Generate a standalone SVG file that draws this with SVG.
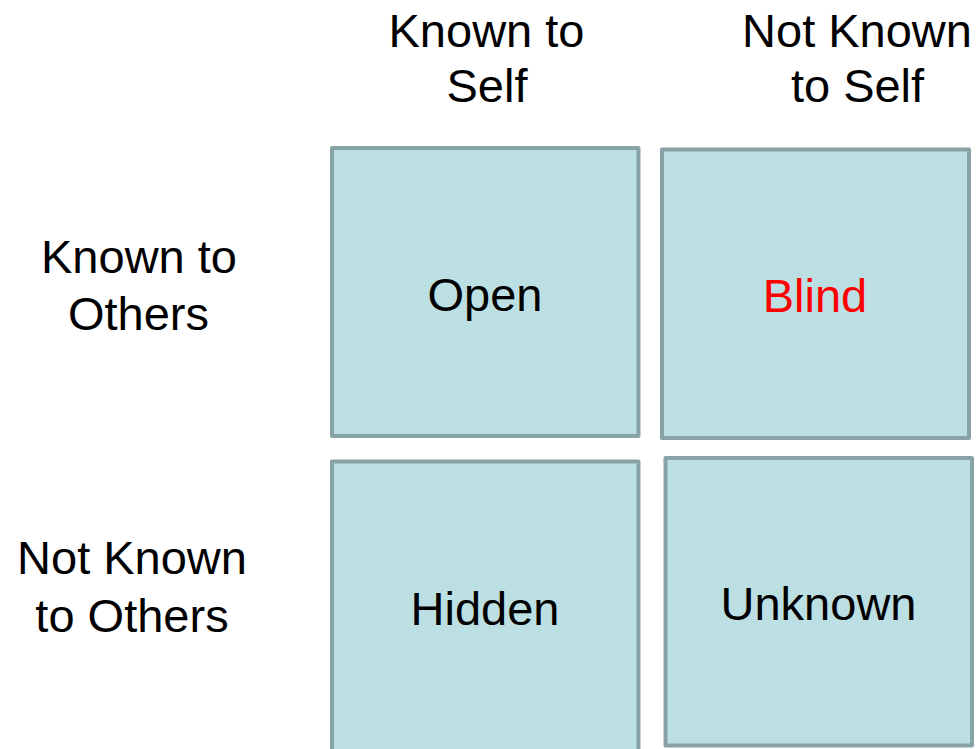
<svg xmlns="http://www.w3.org/2000/svg" width="976" height="749" viewBox="0 0 976 749">
<style>
.box{fill:#bbdfe2;stroke:#88a3a6;stroke-width:4;stroke-linejoin:round}
.t{font-family:"Liberation Sans",Arial,sans-serif;font-size:47px;fill:#000;text-anchor:middle}
.red{fill:#ff0000}
</style>
<rect width="976" height="749" fill="#ffffff"/>
<g id="header-known-self"><text class="t" x="486.5" y="47">Known to</text><text class="t" x="487" y="102">Self</text></g>
<g id="header-not-known-self"><text class="t" x="857" y="47">Not Known</text><text class="t" x="857.5" y="102">to Self</text></g>
<g id="header-known-others"><text class="t" x="139" y="273">Known to</text><text class="t" x="138.5" y="330">Others</text></g>
<g id="header-not-known-others"><text class="t" x="132" y="574">Not Known</text><text class="t" x="132" y="632">to Others</text></g>
<g id="open"><rect class="box" x="332" y="148" width="306.5" height="288"/><text class="t" x="485" y="311">Open</text></g>
<g id="blind"><rect class="box" x="662" y="149.5" width="307" height="288.5"/><text class="t red" x="815" y="312">Blind</text></g>
<g id="hidden"><rect class="box" x="332" y="461.5" width="306.5" height="300"/><text class="t" x="485" y="625">Hidden</text></g>
<g id="unknown"><rect class="box" x="665.5" y="458" width="306.5" height="287.5"/><text class="t" x="818.5" y="620">Unknown</text></g>
<g id="connectors"></g>
</svg>
